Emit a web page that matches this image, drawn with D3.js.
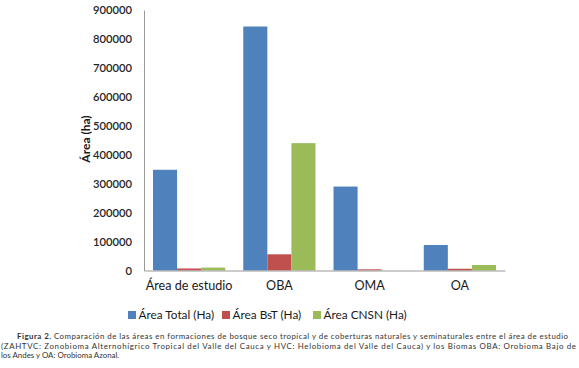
<!DOCTYPE html>
<html>
<head>
<meta charset="utf-8">
<script src="https://cdn.jsdelivr.net/npm/d3@7"></script>
<style>
  body { margin: 0; background: #fff; }
  svg { display: block; font-family: Lato, "Liberation Sans", sans-serif; }
</style>
</head>
<body>
<div id="chart"></div>
<script>
// categories and series
var categories = ["Área de estudio", "OBA", "OMA", "OA"];
var seriesNames = ["Área Total (Ha)", "Área BsT (Ha)", "Área CNSN (Ha)"];
var areaTotal = [348000, 843000, 290000, 88000];
var areaBsT = [7000, 56000, 4000, 6000];
var areaCNSN = [10000, 440000, 0, 19000];
var yTicks = [0, 100000, 200000, 300000, 400000, 500000, 600000, 700000, 800000, 900000];
var colorMap = ["#4f81bd", "#c0504d", "#9bbb59"];
var captionLines = [
    "Comparación de las áreas en formaciones de bosque seco tropical y de coberturas naturales y seminaturales entre el área de estudio",
    "(ZAHTVC: Zonobioma Alternohígrico Tropical del Valle del Cauca y HVC: Helobioma del Valle del Cauca) y los Biomas OBA: Orobioma Bajo de",
    "los Andes y OA: Orobioma Azonal."
];

var width = 579, height = 368;
var svg = d3.select("#chart").append("svg")
    .attr("width", width)
    .attr("height", height);

// plot area
var x0 = 144, x1 = 505, yTop = 10, yBottom = 270.5;

var values = [areaTotal, areaBsT, areaCNSN];
var rows = categories.map(function (c, i) {
    return { cat: c, vals: values.map(function (s) { return s[i]; }) };
});

var xScale = d3.scaleBand().domain(categories).range([x0, x1]).padding(0);
var gap = xScale.bandwidth() * 0.1;
var xSub = d3.scaleBand().domain(d3.range(seriesNames.length))
    .range([gap, xScale.bandwidth() - gap]);
var yScale = d3.scaleLinear().domain([0, 900000]).range([yBottom, yTop]);

// bars
var groups = svg.append("g").selectAll("g")
    .data(rows)
    .enter().append("g")
    .attr("transform", function (d) { return "translate(" + xScale(d.cat) + ",0)"; });

groups.selectAll("rect")
    .data(function (d) { return d.vals; })
    .enter().append("rect")
    .attr("x", function (d, i) { return xSub(i); })
    .attr("width", xSub.bandwidth())
    .attr("y", function (d) { return yScale(d); })
    .attr("height", function (d) { return yBottom - yScale(d); })
    .style("fill", function (d, i) { return colorMap[i]; });

// y axis
var yAxis = d3.axisLeft(yScale).tickValues(yTicks).tickSize(0).tickPadding(12)
    .tickFormat(d3.format("d"));
var yG = svg.append("g")
    .attr("transform", "translate(" + x0 + ",0)")
    .call(yAxis);
yG.select(".domain").attr("stroke", "#9a9a9a");
yG.selectAll("text")
    .attr("font-family", "Lato, sans-serif")
    .attr("font-size", 11.2)
    .attr("font-weight", 600)
    .attr("fill", "#262626");

// x axis
var xAxis = d3.axisBottom(xScale).tickSize(0).tickPadding(11);
var xG = svg.append("g")
    .attr("transform", "translate(0," + yBottom + ")")
    .call(xAxis);
xG.select(".domain").attr("stroke", "#9a9a9a");
xG.selectAll("text")
    .attr("font-family", "Lato, sans-serif")
    .attr("font-size", 12.6)
    .attr("fill", "#1a1a1a");

// y title
svg.append("text")
    .attr("transform", "translate(90,139) rotate(-90)")
    .attr("text-anchor", "middle")
    .attr("font-size", 12)
    .attr("font-weight", "bold")
    .attr("fill", "#1a1a1a")
    .text("Área (ha)");

// legend
var legendX = [128, 222, 313];
var legend = svg.append("g").selectAll("g")
    .data(seriesNames)
    .enter().append("g")
    .attr("transform", function (d, i) { return "translate(" + legendX[i] + ",315)"; });
legend.append("rect")
    .attr("x", 0).attr("y", -4)
    .attr("width", 8).attr("height", 8)
    .style("fill", function (d, i) { return colorMap[i]; });
legend.append("text")
    .attr("x", 10.5)
    .attr("dy", "0.35em")
    .attr("font-size", 11.8)
    .attr("fill", "#1a1a1a")
    .text(function (d) { return d; });

// caption
var cap = svg.append("g")
    .attr("font-size", 7.9)
    .attr("fill", "#333");
var line1 = cap.append("text")
    .attr("x", 17).attr("y", 339)
    .attr("textLength", 551).attr("lengthAdjust", "spacing");
line1.append("tspan").attr("font-weight", "bold").text("Figura 2. ");
line1.append("tspan").text(captionLines[0]);
cap.append("text")
    .attr("x", 1).attr("y", 348.6)
    .attr("textLength", 575).attr("lengthAdjust", "spacing")
    .text(captionLines[1]);
cap.append("text")
    .attr("x", 1).attr("y", 358.2)
    .text(captionLines[2]);
</script>
</body>
</html>
